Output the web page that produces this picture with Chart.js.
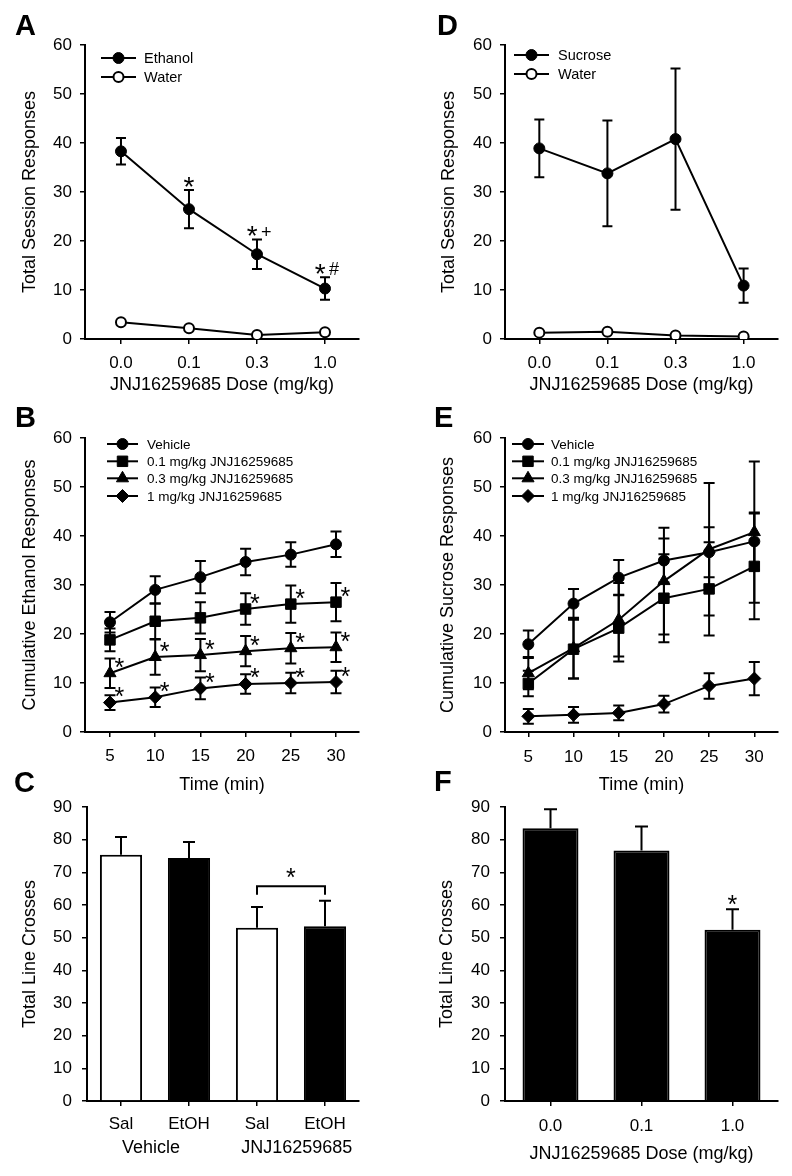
<!DOCTYPE html>
<html>
<head>
<meta charset="utf-8">
<script src="https://cdn.jsdelivr.net/npm/chart.js@4.4.1/dist/chart.umd.min.js"></script>
<style>
  html, body { margin: 0; background: #fff; }
  #fig { position: relative; width: 792px; height: 1176px; overflow: hidden; }
  #fig canvas { position: absolute; }
</style>
</head>
<body>
<div id="fig">
  <canvas id="panelA" width="396" height="400" style="left:0;top:0"></canvas>
  <canvas id="panelD" width="396" height="400" style="left:396px;top:0"></canvas>
  <canvas id="panelB" width="396" height="400" style="left:0;top:400px"></canvas>
  <canvas id="panelE" width="396" height="400" style="left:396px;top:400px"></canvas>
  <canvas id="panelC" width="396" height="416" style="left:0;top:760px"></canvas>
  <canvas id="panelF" width="396" height="416" style="left:396px;top:760px"></canvas>
</div>
<script>
// ---- data ----
const doseLabels = ["0.0", "0.1", "0.3", "1.0"]
const doseIndex = [0, 1, 2, 3]

// A: ethanol self-administration, total session responses
const ethanolTotal = [38.3, 26.5, 17.3, 10.3]
const ethanolTotalSem = [2.7, 3.9, 3.0, 2.3]
const ethanolWater = [3.4, 2.2, 0.8, 1.4]
const ethanolTotalSig = ["", "*", "*+", "*#"]

// D: sucrose self-administration, total session responses
const sucroseTotal = [38.9, 33.8, 40.8, 10.9]
const sucroseTotalSem = [5.9, 10.8, 14.4, 3.5]
const sucroseWater = [1.3, 1.5, 0.7, 0.5]

// B / E: cumulative responses over the session
const timePoints = [5, 10, 15, 20, 25, 30]
const timeLabels = ["5", "10", "15", "20", "25", "30"]
const groupNames = ["Vehicle", "0.1 mg/kg JNJ16259685", "0.3 mg/kg JNJ16259685", "1 mg/kg JNJ16259685"]

const ethVehicle = [22.4, 29.0, 31.6, 34.7, 36.2, 38.3]
const ethVehicleSem = [2.1, 2.8, 3.3, 2.7, 2.5, 2.6]
const ethLow = [18.8, 22.6, 23.3, 25.1, 26.1, 26.5]
const ethLowSem = [2.3, 3.6, 3.2, 3.2, 3.8, 3.9]
const ethMid = [12.0, 15.3, 15.7, 16.5, 17.1, 17.3]
const ethMidSem = [3.0, 3.6, 3.3, 3.1, 3.1, 3.0]
const ethHigh = [6.0, 7.1, 8.9, 9.8, 10.0, 10.2]
const ethHighSem = [1.5, 2.0, 2.2, 2.0, 2.1, 2.3]
const ethLowSig = ["", "", "", "*", "*", "*"]
const ethMidSig = ["*", "*", "*", "*", "*", "*"]
const ethHighSig = ["*", "*", "*", "*", "*", "*"]

const sucVehicle = [17.9, 26.2, 31.5, 35.0, 36.7, 38.9]
const sucVehicleSem = [2.8, 3.0, 3.6, 4.5, 5.1, 5.9]
const sucLow = [9.9, 16.9, 21.2, 27.3, 29.2, 33.8]
const sucLowSem = [2.6, 6.0, 6.8, 9.0, 9.5, 10.8]
const sucMid = [12.0, 17.1, 22.9, 30.8, 37.3, 40.8]
const sucMidSem = [3.3, 6.2, 7.5, 10.9, 13.5, 14.4]
const sucHigh = [3.2, 3.5, 3.9, 5.7, 9.4, 10.9]
const sucHighSem = [1.5, 1.6, 1.5, 1.7, 2.6, 3.4]

// C: locomotor activity after ethanol / saline
const locoGroups = ["Sal", "EtOH", "Sal", "EtOH"]
const locoPretreat = ["Vehicle", "JNJ16259685"]
const locoCrosses = [75.4, 74.4, 53.0, 53.5]
const locoSem = [5.4, 4.9, 6.4, 7.8]

// F: locomotor activity by dose
const locoDoses = ["0.0", "0.1", "1.0"]
const doseCrosses = [83.5, 76.7, 52.4]
const doseCrossesSem = [5.8, 7.3, 6.3]
const doseCrossesSig = ["", "", "*"]

// ---- styling ----
const INK = "#000"
const FONT = "'Liberation Sans', Arial, Helvetica, sans-serif"
Chart.defaults.font.family = FONT
Chart.defaults.color = INK

const MARK = {
  dot: { shape: "circle", r: 5.5, fill: INK, bw: 1 },
  ring: { shape: "circle", r: 5, fill: "#fff", bw: 2 },
  square: { shape: "rect", r: 7.4, fill: INK, bw: 1 },
  triangle: { shape: "triangle", r: 7, fill: INK, bw: 1 },
  diamond: { shape: "rectRot", r: 6.5, fill: INK, bw: 1 },
}

function axisLines() {
  return {
    grid: { drawOnChartArea: false, tickLength: 5, color: INK, lineWidth: 1.5 },
    border: { color: INK, width: 2 },
  }
}

function axisTitle(text) {
  return { display: true, text, color: INK, font: { size: 18 }, padding: { top: 4, bottom: 4 } }
}

function yAxis(max, title, width, pad) {
  return {
    min: 0,
    max,
    ticks: { stepSize: 10, font: { size: 17 }, color: INK, padding: pad },
    ...axisLines(),
    title: axisTitle(title),
    afterFit: (s) => { s.width = width },
  }
}

function xLinear({ min, max, values, labels, title, height, pad }) {
  return {
    type: "linear",
    min,
    max,
    afterBuildTicks: (s) => { s.ticks = values.map((v) => ({ value: v })) },
    ticks: {
      font: { size: 17 }, color: INK, padding: pad, maxRotation: 0, autoSkip: false,
      callback: (v, i) => labels[i],
    },
    ...axisLines(),
    title: axisTitle(title),
    afterFit: (s) => { s.height = height },
  }
}

function xCategory({ title, height, pad }) {
  const lines = axisLines()
  return {
    type: "category",
    offset: true,
    ticks: { font: { size: 17 }, color: INK, padding: pad, maxRotation: 0, autoSkip: false },
    grid: { ...lines.grid, offset: false },
    border: lines.border,
    title: title ? axisTitle(title) : { display: false },
    afterFit: (s) => { s.height = height },
  }
}

function series(label, xs, ys, errs, mark, sig) {
  return {
    label,
    data: ys.map((y, i) => ({ x: xs[i], y })),
    errors: errs,
    sig,
    mark,
    borderColor: INK,
    borderWidth: 2,
    tension: 0,
    pointStyle: mark.shape,
    pointRadius: mark.r,
    pointBackgroundColor: mark.fill,
    pointBorderColor: INK,
    pointBorderWidth: mark.bw,
  }
}

// draw a glyph with its ink box centred on (cx, cy)
function glyph(ctx, ch, cx, cy, size) {
  ctx.font = `${size}px ${FONT}`
  ctx.textAlign = "left"
  ctx.textBaseline = "alphabetic"
  const m = ctx.measureText(ch)
  const x = cx - (m.actualBoundingBoxRight - m.actualBoundingBoxLeft) / 2
  const y = cy + (m.actualBoundingBoxAscent - m.actualBoundingBoxDescent) / 2
  ctx.fillText(ch, x, y)
}

function valueOf(d) {
  return typeof d === "number" ? d : d.y
}

// error bars, significance marks, legend, bracket, group labels, panel letter
const marks = {
  id: "marks",
  beforeDatasetsDraw(chart, _args, o) {
    const { ctx } = chart
    const ys = chart.scales.y
    ctx.save()
    ctx.strokeStyle = INK
    ctx.lineWidth = 2
    chart.data.datasets.forEach((ds, i) => {
      if (!ds.errors) return
      chart.getDatasetMeta(i).data.forEach((el, j) => {
        const v = valueOf(ds.data[j])
        const e = ds.errors[j]
        const top = ys.getPixelForValue(v + e)
        const bot = o.bothWays ? ys.getPixelForValue(v - e) : el.y
        ctx.beginPath()
        ctx.moveTo(el.x, top)
        ctx.lineTo(el.x, bot)
        ctx.moveTo(el.x - o.cap, top)
        ctx.lineTo(el.x + o.cap, top)
        if (o.bothWays) {
          ctx.moveTo(el.x - o.cap, bot)
          ctx.lineTo(el.x + o.cap, bot)
        }
        ctx.stroke()
      })
    })
    ctx.restore()
  },
  afterDatasetsDraw(chart, _args, o) {
    const { ctx } = chart
    const ys = chart.scales.y
    ctx.save()
    ctx.fillStyle = INK
    ctx.strokeStyle = INK

    // significance marks
    chart.data.datasets.forEach((ds, i) => {
      if (!ds.sig) return
      chart.getDatasetMeta(i).data.forEach((el, j) => {
        const s = ds.sig[j]
        if (!s) return
        const chars = [...s]
        let cy
        let cx
        if (o.sigMode === "beside") {
          cx = el.x + o.sigDx
          cy = el.y + o.sigDy
        } else {
          const top = ys.getPixelForValue(valueOf(ds.data[j]) + ds.errors[j])
          cx = el.x - (chars.length - 1) * 4.7
          cy = top - o.sigGap
        }
        chars.forEach((ch, k) => {
          glyph(ctx, ch, cx + k * 13.8, cy, ch === "*" ? o.starSize : 18)
        })
      })
    })

    // legend: line through marker + label
    if (o.legend) {
      const L = o.legend
      chart.data.datasets.forEach((ds, i) => {
        const y = L.y[i]
        ctx.lineWidth = 2
        ctx.beginPath()
        ctx.moveTo(L.x0, y)
        ctx.lineTo(L.x1, y)
        ctx.stroke()
        ctx.fillStyle = ds.mark.fill
        ctx.lineWidth = ds.mark.bw
        Chart.helpers.drawPoint(ctx, { pointStyle: ds.mark.shape, radius: ds.mark.r, rotation: 0, borderWidth: ds.mark.bw }, (L.x0 + L.x1) / 2, y)
        ctx.fillStyle = INK
        ctx.font = `${L.size}px ${FONT}`
        ctx.textAlign = "left"
        ctx.textBaseline = "alphabetic"
        ctx.fillText(ds.label, L.tx, y + L.size * 0.36)
      })
    }

    // bracket between two bars
    if (o.bracket) {
      const B = o.bracket
      const meta = chart.getDatasetMeta(0)
      const ds = chart.data.datasets[0]
      const tops = [B.from, B.to].map((k) => ys.getPixelForValue(ds.data[k] + ds.errors[k]))
      const legY = Math.min(...tops) - B.gap
      const barY = legY - B.rise
      const x0 = meta.data[B.from].x
      const x1 = meta.data[B.to].x
      ctx.lineWidth = 2
      ctx.beginPath()
      ctx.moveTo(x0, legY)
      ctx.lineTo(x0, barY)
      ctx.lineTo(x1, barY)
      ctx.lineTo(x1, legY)
      ctx.stroke()
      glyph(ctx, B.text, (x0 + x1) / 2, barY - B.textGap, o.starSize)
    }

    // second row of category labels
    if (o.groups) {
      const G = o.groups
      const xs = chart.scales.x
      ctx.font = `18px ${FONT}`
      ctx.textAlign = "center"
      ctx.textBaseline = "alphabetic"
      G.labels.forEach((t, k) => {
        const [a, b] = G.pairs[k]
        const cx = (xs.getPixelForValue(a) + xs.getPixelForValue(b)) / 2 + G.dx[k]
        ctx.fillText(t, cx, G.y)
      })
    }

    // panel letter
    if (o.letter) {
      ctx.font = `bold 29px ${FONT}`
      ctx.textAlign = "left"
      ctx.textBaseline = "alphabetic"
      ctx.fillText(o.letter.text, o.letter.x, o.letter.y)
    }
    ctx.restore()
  },
}

function baseOptions(padding, scales, markOpts) {
  return {
    responsive: false,
    animation: false,
    events: [],
    layout: { padding },
    scales,
    plugins: { legend: { display: false }, tooltip: { enabled: false }, marks: markOpts },
  }
}

// ---- A ----
new Chart(document.getElementById("panelA"), {
  type: "line",
  data: {
    datasets: [
      series("Ethanol", doseIndex, ethanolTotal, ethanolTotalSem, MARK.dot, ethanolTotalSig),
      series("Water", doseIndex, ethanolWater, null, MARK.ring, null),
    ],
  },
  options: baseOptions(
    { left: 15, right: 37, top: 45, bottom: 0 },
    {
      x: xLinear({ min: -0.529, max: 3.5, values: doseIndex, labels: doseLabels, title: "JNJ16259685 Dose (mg/kg)", height: 61, pad: 9 }),
      y: yAxis(60, "Total Session Responses", 70, 8),
    },
    {
      bothWays: true, cap: 5, sigMode: "above", sigGap: 8.5, starSize: 28,
      legend: { x0: 101, x1: 136, y: [58, 77], tx: 144, size: 14.5 },
      letter: { text: "A", x: 15, y: 35 },
    },
  ),
  plugins: [marks],
})

// ---- D ----
new Chart(document.getElementById("panelD"), {
  type: "line",
  data: {
    datasets: [
      series("Sucrose", doseIndex, sucroseTotal, sucroseTotalSem, MARK.dot, null),
      series("Water", doseIndex, sucroseWater, null, MARK.ring, null),
    ],
  },
  options: baseOptions(
    { left: 38.5, right: 14, top: 45, bottom: 0 },
    {
      x: xLinear({ min: -0.504, max: 3.505, values: doseIndex, labels: doseLabels, title: "JNJ16259685 Dose (mg/kg)", height: 61, pad: 9 }),
      y: yAxis(60, "Total Session Responses", 70.5, 8),
    },
    {
      bothWays: true, cap: 5,
      legend: { x0: 118, x1: 153, y: [55, 74], tx: 162, size: 14.5 },
      letter: { text: "D", x: 41, y: 35 },
    },
  ),
  plugins: [marks],
})

// ---- B ----
new Chart(document.getElementById("panelB"), {
  type: "line",
  data: {
    datasets: [
      series(groupNames[0], timePoints, ethVehicle, ethVehicleSem, MARK.dot, null),
      series(groupNames[1], timePoints, ethLow, ethLowSem, MARK.square, ethLowSig),
      series(groupNames[2], timePoints, ethMid, ethMidSem, MARK.triangle, ethMidSig),
      series(groupNames[3], timePoints, ethHigh, ethHighSem, MARK.diamond, ethHighSig),
    ],
  },
  options: baseOptions(
    { left: 15, right: 37, top: 38, bottom: 0 },
    {
      x: xLinear({ min: 2.235, max: 32.544, values: timePoints, labels: timeLabels, title: "Time (min)", height: 68, pad: 9 }),
      y: yAxis(60, "Cumulative Ethanol Responses", 70, 8),
    },
    {
      bothWays: true, cap: 5.5, sigMode: "beside", sigDx: 9.5, sigDy: -10.5, starSize: 25,
      legend: { x0: 107, x1: 138, y: [44, 61.3, 78.3, 96], tx: 147, size: 13.5 },
      letter: { text: "B", x: 15, y: 27 },
    },
  ),
  plugins: [marks],
})

// ---- E ----
new Chart(document.getElementById("panelE"), {
  type: "line",
  data: {
    datasets: [
      series(groupNames[0], timePoints, sucVehicle, sucVehicleSem, MARK.dot, null),
      series(groupNames[1], timePoints, sucLow, sucLowSem, MARK.square, null),
      series(groupNames[2], timePoints, sucMid, sucMidSem, MARK.triangle, null),
      series(groupNames[3], timePoints, sucHigh, sucHighSem, MARK.diamond, null),
    ],
  },
  options: baseOptions(
    { left: 37, right: 14, top: 38, bottom: 0 },
    {
      x: xLinear({ min: 2.42, max: 32.62, values: timePoints, labels: timeLabels, title: "Time (min)", height: 68, pad: 10 }),
      y: yAxis(60, "Cumulative Sucrose Responses", 72, 8),
    },
    {
      bothWays: true, cap: 5.5,
      legend: { x0: 116, x1: 148, y: [44, 61.3, 78.3, 96], tx: 155, size: 13.5 },
      letter: { text: "E", x: 38, y: 27 },
    },
  ),
  plugins: [marks],
})

// ---- C ----
new Chart(document.getElementById("panelC"), {
  type: "bar",
  data: {
    labels: locoGroups,
    datasets: [
      {
        data: locoCrosses,
        errors: locoSem,
        backgroundColor: ["#fff", INK, "#fff", INK],
        borderColor: INK,
        borderWidth: 2,
        barPercentage: 0.62,
        categoryPercentage: 1,
      },
    ],
  },
  options: baseOptions(
    { left: 15, right: 37, top: 47, bottom: 0 },
    {
      x: xCategory({ height: 75, pad: 8 }),
      y: yAxis(90, "Total Line Crosses", 72, 10),
    },
    {
      bothWays: false, cap: 6, starSize: 25,
      bracket: { from: 2, to: 3, text: "*", gap: 6, rise: 8.6, textGap: 13.5 },
      groups: { labels: locoPretreat, pairs: [[0, 1], [2, 3]], dx: [-4, 5.7], y: 393 },
      letter: { text: "C", x: 14, y: 32 },
    },
  ),
  plugins: [marks],
})

// ---- F ----
new Chart(document.getElementById("panelF"), {
  type: "bar",
  data: {
    labels: locoDoses,
    datasets: [
      {
        data: doseCrosses,
        errors: doseCrossesSem,
        sig: doseCrossesSig,
        backgroundColor: INK,
        borderColor: INK,
        borderWidth: 2,
        barPercentage: 0.615,
        categoryPercentage: 1,
      },
    ],
  },
  options: baseOptions(
    { left: 36.5, right: 14, top: 47, bottom: 7 },
    {
      x: xCategory({ title: "JNJ16259685 Dose (mg/kg)", height: 68, pad: 10 }),
      y: yAxis(90, "Total Line Crosses", 72.5, 10),
    },
    {
      bothWays: false, cap: 6.5, sigMode: "above", sigGap: 9, starSize: 25,
      letter: { text: "F", x: 38, y: 31 },
    },
  ),
  plugins: [marks],
})
</script>
</body>
</html>
